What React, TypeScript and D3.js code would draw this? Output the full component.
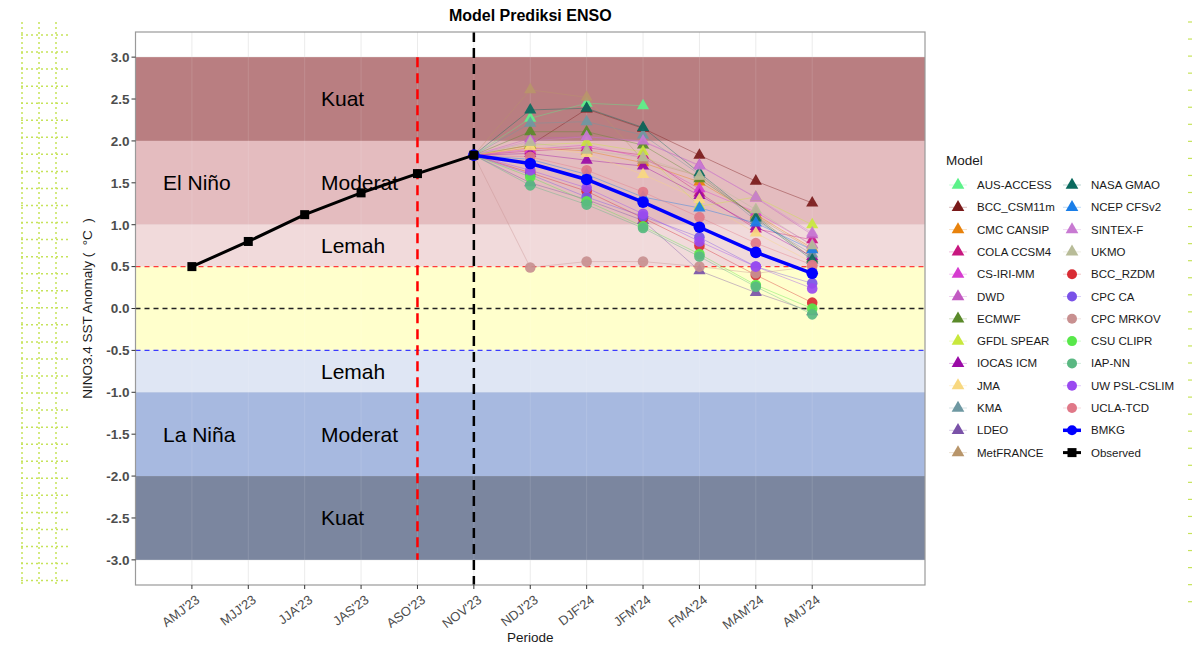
import React from "react";
import * as d3 from "d3";

const periods = ["AMJ'23", "MJJ'23", "JJA'23", "JAS'23", "ASO'23", "NOV'23", "NDJ'23", "DJF'24", "JFM'24", "FMA'24", "MAM'24", "AMJ'24"];
const yTicks = [3.0, 2.5, 2.0, 1.5, 1.0, 0.5, 0.0, -0.5, -1.0, -1.5, -2.0, -2.5, -3.0];

const observedValues = [0.5, 0.8, 1.12, 1.38, 1.61, 1.83];
const bmkgValues = [1.83, 1.73, 1.54, 1.27, 0.97, 0.67, 0.42];

const modelNames = ["AUS-ACCESS", "BCC_CSM11m", "CMC CANSIP", "COLA CCSM4", "CS-IRI-MM", "DWD", "ECMWF", "GFDL SPEAR", "IOCAS ICM", "JMA", "KMA", "LDEO", "MetFRANCE", "NASA GMAO", "NCEP CFSv2", "SINTEX-F", "UKMO", "BCC_RZDM", "CPC CA", "CPC MRKOV", "CSU CLIPR", "IAP-NN", "UW PSL-CSLIM", "UCLA-TCD"];
const modelColors = ["#5cf28a", "#7a1a1a", "#e8820c", "#c8177f", "#d63cd0", "#c25ac2", "#5a8a2a", "#c8e83c", "#9a0aa6", "#f8d880", "#6e98a2", "#7a52a8", "#b8956a", "#0a6a5e", "#1a7ee8", "#c87ad2", "#b8bc98", "#d82c34", "#7a52e8", "#c89090", "#58e84a", "#5ab882", "#9a4af0", "#e07888"];
const modelShapes = ["tri", "tri", "tri", "tri", "tri", "tri", "tri", "tri", "tri", "tri", "tri", "tri", "tri", "tri", "tri", "tri", "tri", "circle", "circle", "circle", "circle", "circle", "circle", "circle"];
// values for NDJ'23, DJF'24, JFM'24, FMA'24, MAM'24, AMJ'24
const modelValues: (number | null)[][] = [
  [2.27, 2.45, 2.42, null, null, null],
  [1.95, 2.38, 2.15, 1.83, 1.52, 1.26],
  [1.92, 1.88, 1.74, 1.51, 1.12, 0.72],
  [1.88, 1.92, 1.83, 1.38, 0.95, 0.82],
  [1.9, 1.95, 1.8, 1.43, 1.15, 0.76],
  [2.03, 2.05, 1.99, 1.71, 1.32, 0.88],
  [2.11, 2.11, 1.95, 1.55, 1.1, 0.6],
  [1.95, 1.98, 1.87, 1.22, 1.33, 1.0],
  [1.85, 1.77, 1.7, 1.35, 0.98, 0.62],
  [1.93, 1.85, 1.6, 1.3, 0.9, 0.55],
  [2.21, 2.23, 2.07, 1.6, 1.05, 0.65],
  [1.5, 1.3, 1.05, 0.45, 0.19, -0.04],
  [2.61, 2.52, 1.77, 1.58, 1.1, 0.7],
  [2.37, 2.39, 2.16, 1.62, 1.08, 0.58],
  [1.78, 1.6, 1.33, 1.2, 1.02, 0.7],
  [2.0, 2.05, 2.0, 1.7, 1.33, 0.9],
  [1.98, 1.89, 1.8, 1.58, 1.18, 0.75],
  [1.62, 1.4, 1.08, 0.75, 0.4, 0.07],
  [1.6, 1.33, 1.1, 0.85, 0.5, 0.3],
  [0.49, 0.56, 0.56, 0.5, 0.42, 0.5],
  [1.57, 1.28, 0.98, 0.65, 0.28, 0.0],
  [1.47, 1.24, 0.96, 0.62, 0.26, -0.07],
  [1.65, 1.44, 1.13, 0.8, 0.5, 0.24],
  [1.81, 1.65, 1.39, 1.09, 0.78, 0.52],
];

const bands = [
  { lo: 2, hi: 3, color: "#b97e81" },
  { lo: 1, hi: 2, color: "#e4bcbf" },
  { lo: 0.5, hi: 1, color: "#f1dadb" },
  { lo: -0.5, hi: 0.5, color: "#ffffcc" },
  { lo: -1, hi: -0.5, color: "#dfe6f4" },
  { lo: -2, hi: -1, color: "#a7b9e0" },
  { lo: -3, hi: -2, color: "#7b869f" },
];
const bandLabels = [
  { text: "Kuat", v: 2.5, left: false },
  { text: "Moderat", v: 1.5, left: false },
  { text: "El Niño", v: 1.5, left: true },
  { text: "Lemah", v: 0.75, left: false },
  { text: "Lemah", v: -0.75, left: false },
  { text: "Moderat", v: -1.5, left: false },
  { text: "La Niña", v: -1.5, left: true },
  { text: "Kuat", v: -2.5, left: false },
];

const FONT = "'Liberation Sans', Arial, Helvetica, sans-serif";

export default function App() {
  const L = 135.5, R = 925, T = 32, B = 585;
  const x = d3.scaleLinear().domain([-1, 13]).range([L, R]);
  const y = d3.scaleLinear().domain([-3.3, 3.3]).range([B, T]);
  const tri = d3.symbol().type(d3.symbolTriangle).size(64)()!;
  const triSmall = d3.symbol().type(d3.symbolTriangle).size(70)()!;

  const lineGen = d3
    .line<[number, number | null]>()
    .defined((d) => d[1] !== null)
    .x((d) => x(d[0]))
    .y((d) => y(d[1] as number));

  const obsPts: [number, number | null][] = observedValues.map((v, i) => [i, v]);
  const bmkgPts: [number, number | null][] = bmkgValues.map((v, i) => [i + 5, v]);

  const leftDotX = [22, 39, 56];
  const leftDotY = d3.range(35, 585, 17.05);
  const rightDashY = d3.range(22, 610, 17.05);

  const legendRows = 13;
  const legendItems = [
    ...modelNames.map((n, i) => ({ name: n, color: modelColors[i], shape: modelShapes[i] })),
    { name: "BMKG", color: "#0000ff", shape: "bmkg" },
    { name: "Observed", color: "#000000", shape: "obs" },
  ];

  return (
    <svg width={1192} height={646} style={{ position: "absolute", left: 0, top: 0, background: "#fff" }} fontFamily={FONT}>
      {/* decorative dotted grid left */}
      <g stroke="#c6e35a" strokeWidth={1.5} strokeDasharray="2,3">
        {leftDotX.map((dx) => (
          <line key={"v" + dx} x1={dx} x2={dx} y1={22} y2={584} />
        ))}
        {leftDotY.map((dy, i) => (
          <line key={"h" + i} x1={21} x2={70} y1={dy} y2={dy} />
        ))}
      </g>
      <g stroke="#c6e35a" strokeWidth={1.2}>
        {rightDashY.map((dy, i) => (
          <line key={"r" + i} x1={1188} x2={1192} y1={dy} y2={dy} />
        ))}
      </g>

      {/* panel */}
      <rect x={L} y={T} width={R - L} height={B - T} fill="#fff" />
      <g stroke="#ebebeb" strokeWidth={1}>
        {periods.map((p, i) => (
          <line key={p} x1={x(i)} x2={x(i)} y1={T} y2={B} />
        ))}
        {yTicks.map((t) => (
          <line key={t} x1={L} x2={R} y1={y(t)} y2={y(t)} />
        ))}
      </g>
      {bands.map((b, i) => (
        <rect key={i} x={L} width={R - L} y={y(b.hi)} height={y(b.lo) - y(b.hi)} fill={b.color} />
      ))}
      <g stroke="#ffffff" strokeOpacity={0.12} strokeWidth={1}>
        {periods.map((p, i) => (
          <line key={p} x1={x(i)} x2={x(i)} y1={y(3)} y2={y(-3)} />
        ))}
      </g>

      {/* threshold lines */}
      <line x1={L} x2={R} y1={y(0.5)} y2={y(0.5)} stroke="#ff3b3b" strokeWidth={1.3} strokeDasharray="5,4" />
      <line x1={L} x2={R} y1={y(0)} y2={y(0)} stroke="#222" strokeWidth={1.3} strokeDasharray="5,4" />
      <line x1={L} x2={R} y1={y(-0.5)} y2={y(-0.5)} stroke="#3a3aff" strokeWidth={1.3} strokeDasharray="5,4" />
      <line x1={x(4)} x2={x(4)} y1={y(3)} y2={y(-3)} stroke="#ff0000" strokeWidth={2.5} strokeDasharray="10,6" />
      <line x1={x(5)} x2={x(5)} y1={T} y2={B} stroke="#000" strokeWidth={2.5} strokeDasharray="10,6" />

      {/* band labels */}
      {bandLabels.map((b, i) => (
        <text key={i} x={b.left ? 163 : 321} y={y(b.v)} dy="0.35em" fontSize={21} fill="#000">
          {b.text}
        </text>
      ))}

      {/* model lines */}
      {modelValues.map((vals, m) => {
        const pts: [number, number | null][] = [[5, observedValues[5]], ...vals.map((v, i) => [i + 6, v] as [number, number | null])];
        return (
          <path key={"l" + m} d={lineGen(pts) || ""} fill="none" stroke={modelColors[m]} strokeOpacity={0.5} strokeWidth={0.8} />
        );
      })}
      {/* model points */}
      {modelValues.map((vals, m) =>
        vals.map((v, i) =>
          v === null ? null : modelShapes[m] === "tri" ? (
            <path key={m + "-" + i} d={tri} transform={`translate(${x(i + 6)},${y(v)})`} fill={modelColors[m]} fillOpacity={0.92} />
          ) : (
            <circle key={m + "-" + i} cx={x(i + 6)} cy={y(v)} r={5.3} fill={modelColors[m]} fillOpacity={0.92} />
          )
        )
      )}

      {/* BMKG */}
      <path d={lineGen(bmkgPts) || ""} fill="none" stroke="#0000ff" strokeWidth={3.5} />
      {bmkgValues.map((v, i) => (
        <circle key={"b" + i} cx={x(i + 5)} cy={y(v)} r={5.8} fill="#0000ff" />
      ))}

      {/* Observed */}
      <path d={lineGen(obsPts) || ""} fill="none" stroke="#000" strokeWidth={3} />
      {observedValues.map((v, i) => (
        <rect key={"o" + i} x={x(i) - 4.5} y={y(v) - 4.5} width={9} height={9} fill="#000" />
      ))}

      {/* panel border */}
      <rect x={L} y={T} width={R - L} height={B - T} fill="none" stroke="#9a9a9a" strokeWidth={1.2} />

      {/* y axis */}
      {yTicks.map((t) => (
        <g key={"yt" + t}>
          <line x1={L - 4} x2={L} y1={y(t)} y2={y(t)} stroke="#333" strokeWidth={1} />
          <text x={L - 6} y={y(t)} dy="0.36em" textAnchor="end" fontSize={13.5} fontWeight="bold" fill="#4d4d4d">
            {t.toFixed(1)}
          </text>
        </g>
      ))}
      {/* x axis */}
      {periods.map((p, i) => (
        <g key={"xt" + p}>
          <line x1={x(i)} x2={x(i)} y1={B} y2={B + 4} stroke="#333" strokeWidth={1} />
          <text transform={`translate(${x(i) + 6},${B + 13}) rotate(-37)`} textAnchor="end" dy="0.35em" fontSize={13} fill="#4d4d4d">
            {p}
          </text>
        </g>
      ))}

      {/* titles */}
      <text x={(L + R) / 2} y={21} textAnchor="middle" fontSize={16} fontWeight="bold" fill="#000">
        Model Prediksi ENSO
      </text>
      <text x={(L + R) / 2} y={642} textAnchor="middle" fontSize={13.5} fill="#1a1a1a">
        Periode
      </text>
      <text transform={`translate(92,${(T + B) / 2}) rotate(-90)`} textAnchor="middle" fontSize={13.5} fill="#1a1a1a">
        {"NINO3.4 SST Anomaly (\u00a0\u00a0°C\u00a0\u00a0)"}
      </text>

      {/* legend */}
      <text x={946} y={165} fontSize={13.5} fill="#1a1a1a">
        Model
      </text>
      {legendItems.map((it, k) => {
        const col = Math.floor(k / legendRows);
        const row = k % legendRows;
        const kx = col === 0 ? 958 : 1072;
        const ky = 185 + row * 22.3;
        return (
          <g key={"lg" + k}>
            {it.shape === "bmkg" ? (
              <>
                <line x1={kx - 9} x2={kx + 9} y1={ky} y2={ky} stroke="#0000ff" strokeWidth={3.5} />
                <circle cx={kx} cy={ky} r={5} fill="#0000ff" />
              </>
            ) : it.shape === "obs" ? (
              <>
                <line x1={kx - 9} x2={kx + 9} y1={ky} y2={ky} stroke="#000" strokeWidth={3} />
                <rect x={kx - 4.5} y={ky - 4.5} width={9} height={9} fill="#000" />
              </>
            ) : (
              <>
                <line x1={kx - 9} x2={kx + 9} y1={ky} y2={ky} stroke={it.color} strokeOpacity={0.35} strokeWidth={0.8} />
                {it.shape === "tri" ? (
                  <path d={triSmall} transform={`translate(${kx},${ky})`} fill={it.color} />
                ) : (
                  <circle cx={kx} cy={ky} r={5} fill={it.color} />
                )}
              </>
            )}
            <text x={kx + 19} y={ky} dy="0.35em" fontSize={11.5} fill="#1a1a1a">
              {it.name}
            </text>
          </g>
        );
      })}
    </svg>
  );
}
